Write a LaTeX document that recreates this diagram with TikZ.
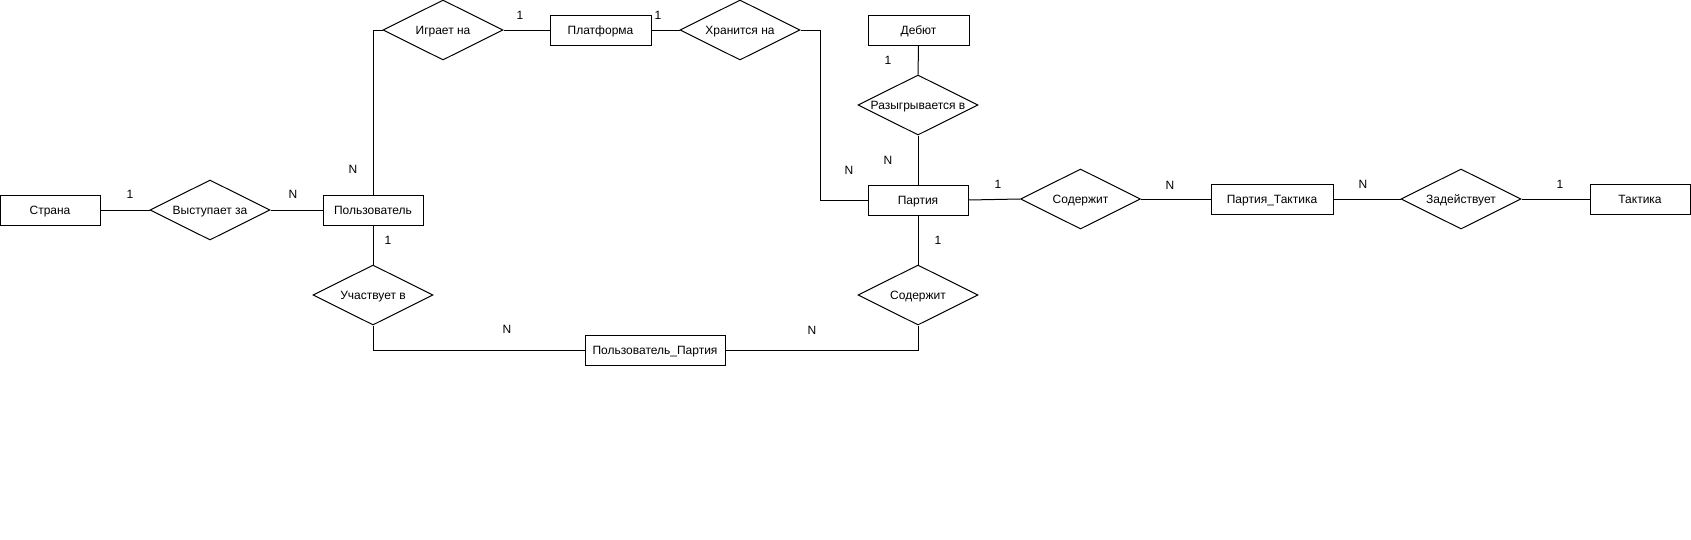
\documentclass[tikz,border=0pt]{standalone}
\usepackage{fontspec}
\setmainfont{Liberation Sans}
\usetikzlibrary{shapes.geometric}
\tikzset{
  x=1pt, y=-1pt,
  ent/.style={draw, line width=1pt, rectangle, minimum height=30pt, minimum width=101pt, inner sep=0pt, text height=8.6pt, text depth=0pt, font=\fontsize{12}{14}\selectfont},
  rel/.style={draw, line width=1pt, diamond, minimum width=120pt, minimum height=60pt, inner sep=0pt, text height=8.6pt, text depth=0pt, font=\fontsize{12}{14}\selectfont},
  card/.style={inner sep=0pt, text height=8.6pt, text depth=0pt, font=\fontsize{12}{14}\selectfont},
  conn/.style={line width=1pt},
}
\begin{document}
\begin{tikzpicture}
\useasboundingbox (0,0) rectangle (1691,539);
% entities
\node[ent, minimum width=100pt] (country) at (50,210) {Страна};
\node[ent, minimum width=100pt] (user) at (373,210) {Пользователь};
\node[ent] (platform) at (600.5,30) {Платформа};
\node[ent] (debut) at (918.5,30) {Дебют};
\node[ent, minimum width=100pt] (party) at (918,200) {Партия};
\node[ent, minimum width=122pt] (pt) at (1272,199) {Партия\_Тактика};
\node[ent, minimum width=100pt] (tactic) at (1640,199) {Тактика};
\node[ent, minimum width=140pt] (up) at (655,350) {Пользователь\_Партия};
% relationships
\node[rel] (rep) at (210,210) {\makebox[0pt]{Выступает за}};
\node[rel] (plays) at (443,30) {\makebox[0pt]{Играет на}};
\node[rel] (stored) at (740,30) {\makebox[0pt]{Хранится на}};
\node[rel] (played) at (918,105) {\makebox[0pt]{Разыгрывается в}};
\node[rel] (contains) at (1080.5,199) {\makebox[0pt]{Содержит}};
\node[rel] (uses) at (1461,199) {\makebox[0pt]{Задействует}};
\node[rel] (takes) at (373,295) {\makebox[0pt]{Участвует в}};
\node[rel] (contains2) at (918,295) {\makebox[0pt]{Содержит}};
% connectors
\draw[conn] (country.east) -- (rep.west);
\draw[conn] (rep.east) -- (user.west);
\draw[conn] (user.north) |- (plays.west);
\draw[conn] (plays.east) -- (platform.west);
\draw[conn] (platform.east) -- (stored.west);
\draw[conn] (stored.east) -- ++(20,0) coordinate (bend1) |- (party.west);
\draw[conn] (debut.south) -- (played.north);
\draw[conn] (played.south) -- (party.north);
\draw[conn] (party.east) -- (contains.west);
\draw[conn] (contains.east) -- (pt.west);
\draw[conn] (pt.east) -- (uses.west);
\draw[conn] (uses.east) -- (tactic.west);
\draw[conn] (user.south) -- (takes.north);
\draw[conn] (takes.south) |- (up.west);
\draw[conn] (up.east) -| (contains2.south);
\draw[conn] (party.south) -- (contains2.north);
% cardinalities
\node[card] (c1) at (130,194) {1};
\node[card] (c2) at (293,194) {N};
\node[card] (c3) at (353,169) {N};
\node[card] (c4) at (388,240) {1};
\node[card] (c5) at (520,15) {1};
\node[card] (c6) at (658,15) {1};
\node[card] (c7) at (888,60) {1};
\node[card] (c8) at (888,160) {N};
\node[card] (c9) at (849,170) {N};
\node[card] (c10) at (998,184) {1};
\node[card] (c11) at (1170,185) {N};
\node[card] (c12) at (1363,184) {N};
\node[card] (c13) at (1560,184) {1};
\node[card] (c14) at (938,240) {1};
\node[card] (c15) at (507,329) {N};
\node[card] (c16) at (812,330) {N};
\end{tikzpicture}
\end{document}
